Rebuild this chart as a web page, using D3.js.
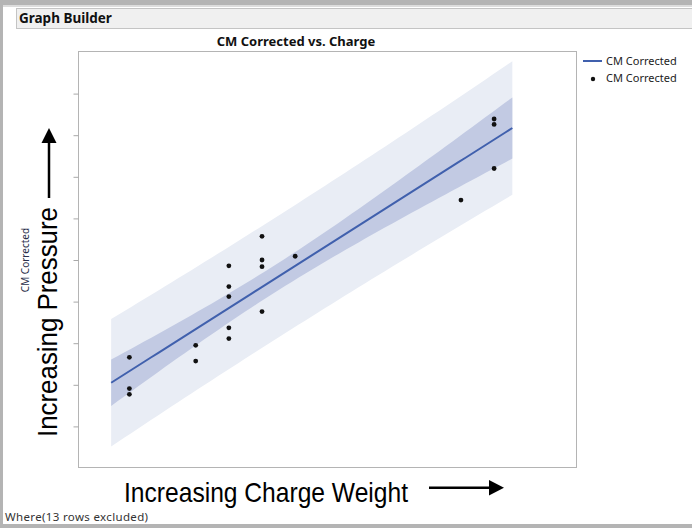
<!DOCTYPE html>
<html>
<head>
<meta charset="utf-8">
<script src="https://cdn.jsdelivr.net/npm/d3@7"></script>
<style>
  body { margin: 0; background: #fff; }
  svg { display: block; }
</style>
</head>
<body>
<svg id="chart"></svg>
<script>
// data (axis units are arbitrary, tick labels are blank)
const chargeWeight = [1, 1, 1, 3, 3, 4, 4, 4, 4, 4, 5, 5, 5, 5, 6, 11, 12, 12, 12];
const cmCorrected = [2.66, 1.91, 1.77, 2.95, 2.57, 4.86, 4.36, 4.12, 3.37, 3.11,
                     5.57, 5.00, 4.84, 3.76, 5.09, 6.44, 8.39, 8.26, 7.20];
const yTickValues = [1, 2, 3, 4, 5, 6, 7, 8, 9];
const legendItems = ['CM Corrected', 'CM Corrected'];

const W = 692, H = 528;
const plot = { left: 78, top: 52, right: 577, bottom: 468 };

const LINE_COLOR = '#4060ad';
const CONF_COLOR = '#c2cae3';
const PRED_COLOR = '#e9edf5';

const svg = d3.select('#chart')
    .attr('width', W)
    .attr('height', H);

// window chrome
svg.append('rect').attr('x', 0).attr('y', 0).attr('width', W).attr('height', 5).attr('fill', '#b4b4b4');
svg.append('rect').attr('x', 0).attr('y', 5).attr('width', W).attr('height', 2).attr('fill', '#dcdcdc');
svg.append('rect').attr('x', 0).attr('y', 0).attr('width', 3).attr('height', H).attr('fill', '#b4b4b4');

// header bar
svg.append('rect')
    .attr('x', 16.5).attr('y', 8.5)
    .attr('width', W - 16).attr('height', 20)
    .attr('fill', '#f0f0f0')
    .attr('stroke', '#c4c4c4');
svg.append('text')
    .attr('x', 19).attr('y', 23)
    .attr('font-family', 'Noto Sans')
    .attr('font-weight', 'bold')
    .attr('font-size', 13.5)
    .attr('fill', '#111')
    .text('Graph Builder');

// scales
const xScale = d3.scaleLinear()
    .domain([-0.55, 14.5])
    .range([plot.left, plot.right]);
const yScale = d3.scaleLinear()
    .domain([0, 10])
    .range([plot.bottom, plot.top]);

// linear fit with 95% bands
const n = chargeWeight.length;
const mx = d3.mean(chargeWeight), my = d3.mean(cmCorrected);
const sxx = d3.sum(chargeWeight, (x) => (x - mx) * (x - mx));
const sxy = d3.sum(chargeWeight, (x, i) => (x - mx) * (cmCorrected[i] - my));
const slope = sxy / sxx;
const intercept = my - slope * mx;
const sse = d3.sum(chargeWeight, (x, i) => Math.pow(cmCorrected[i] - (intercept + slope * x), 2));
const s = Math.sqrt(sse / (n - 2));
const tCrit = 2.1098; // t(0.975, 17)

const xMin = d3.min(chargeWeight), xMax = d3.max(chargeWeight);
const pad = (xMax - xMin) * 0.05;
const fitX = d3.range(0, 61).map((i) => xMin - pad + (xMax - xMin + 2 * pad) * i / 60);
const fit = fitX.map((x) => {
    const yh = intercept + slope * x;
    const lev = 1 / n + (x - mx) * (x - mx) / sxx;
    const c = tCrit * s * Math.sqrt(lev);
    const p = tCrit * s * Math.sqrt(1 + lev);
    return { x: x, y: yh, cLo: yh - c, cHi: yh + c, pLo: yh - p, pHi: yh + p };
});

const chart = svg.append('g');

chart.append('path')
    .datum(fit)
    .attr('fill', PRED_COLOR)
    .attr('d', d3.area().x((d) => xScale(d.x)).y0((d) => yScale(d.pLo)).y1((d) => yScale(d.pHi)));

chart.append('path')
    .datum(fit)
    .attr('fill', CONF_COLOR)
    .attr('d', d3.area().x((d) => xScale(d.x)).y0((d) => yScale(d.cLo)).y1((d) => yScale(d.cHi)));

chart.append('path')
    .datum(fit)
    .attr('fill', 'none')
    .attr('stroke', LINE_COLOR)
    .attr('stroke-width', 2)
    .attr('d', d3.line().x((d) => xScale(d.x)).y((d) => yScale(d.y)));

chart.selectAll('circle.pt')
    .data(chargeWeight.map((x, i) => ({ x: x, y: cmCorrected[i] })))
    .enter()
    .append('circle')
    .attr('class', 'pt')
    .attr('cx', (d) => xScale(d.x))
    .attr('cy', (d) => yScale(d.y))
    .attr('r', 2.4)
    .attr('fill', '#111');

// frame
svg.append('rect')
    .attr('x', plot.left + 0.5).attr('y', plot.top - 0.5)
    .attr('width', plot.right - plot.left - 1)
    .attr('height', plot.bottom - plot.top)
    .attr('fill', 'none')
    .attr('stroke', '#b4b4b4');

// y axis, ticks without labels
const yAxis = svg.append('g')
    .attr('transform', `translate(${plot.left + 0.5}, 0)`)
    .call(d3.axisLeft(yScale).tickValues(yTickValues).tickSize(5).tickFormat(''));
yAxis.select('.domain').remove();
yAxis.selectAll('line').attr('stroke', '#a8a8a8');

// title
svg.append('text')
    .attr('x', 296).attr('y', 46)
    .attr('text-anchor', 'middle')
    .attr('font-family', 'Noto Sans')
    .attr('font-weight', 'bold')
    .attr('font-size', 13)
    .attr('fill', '#111')
    .text('CM Corrected vs. Charge');

// y label
svg.append('text')
    .attr('transform', `translate(29, ${(plot.top + plot.bottom) / 2}) rotate(-90)`)
    .attr('text-anchor', 'middle')
    .attr('font-family', 'Noto Sans')
    .attr('font-size', 10)
    .attr('fill', '#2a2f4a')
    .text('CM Corrected');

// annotations
svg.append('text')
    .attr('transform', 'translate(57, 437) rotate(-90)')
    .attr('font-family', 'Liberation Sans')
    .attr('font-size', 27)
    .attr('textLength', 230)
    .attr('lengthAdjust', 'spacingAndGlyphs')
    .attr('fill', '#000')
    .text('Increasing Pressure');

svg.append('text')
    .attr('x', 124).attr('y', 501.5)
    .attr('font-family', 'Liberation Sans')
    .attr('font-size', 27.5)
    .attr('textLength', 284)
    .attr('lengthAdjust', 'spacingAndGlyphs')
    .attr('fill', '#000')
    .text('Increasing Charge Weight');

// arrows
svg.append('line')
    .attr('x1', 49).attr('y1', 198).attr('x2', 49).attr('y2', 142)
    .attr('stroke', '#000').attr('stroke-width', 2.5);
svg.append('path')
    .attr('d', 'M41.5,143 L49,128 L56.5,143 Z')
    .attr('fill', '#000');

svg.append('line')
    .attr('x1', 429).attr('y1', 487.7).attr('x2', 490).attr('y2', 487.7)
    .attr('stroke', '#000').attr('stroke-width', 2.5);
svg.append('path')
    .attr('d', 'M489,480 L504,487.7 L489,495.5 Z')
    .attr('fill', '#000');

// legend
const legend = svg.append('g').attr('transform', 'translate(583, 0)');
legend.append('line')
    .attr('x1', 0).attr('x2', 19).attr('y1', 61).attr('y2', 61)
    .attr('stroke', LINE_COLOR).attr('stroke-width', 2);
legend.append('circle')
    .attr('cx', 10).attr('cy', 79).attr('r', 2.2).attr('fill', '#111');
legend.selectAll('text.lg')
    .data(legendItems)
    .enter()
    .append('text')
    .attr('class', 'lg')
    .attr('x', 23)
    .attr('y', (d, i) => 65 + i * 17)
    .attr('font-family', 'Noto Sans')
    .attr('font-size', 11)
    .attr('fill', '#222')
    .text((d) => d);

// footer
svg.append('text')
    .attr('x', 5).attr('y', 521)
    .attr('font-family', 'Noto Sans')
    .attr('font-size', 11.5)
    .attr('textLength', 143)
    .attr('fill', '#333')
    .text('Where(13 rows excluded)');

svg.append('rect').attr('x', 0).attr('y', 524).attr('width', W).attr('height', 4).attr('fill', '#b4b4b4');
</script>
</body>
</html>
